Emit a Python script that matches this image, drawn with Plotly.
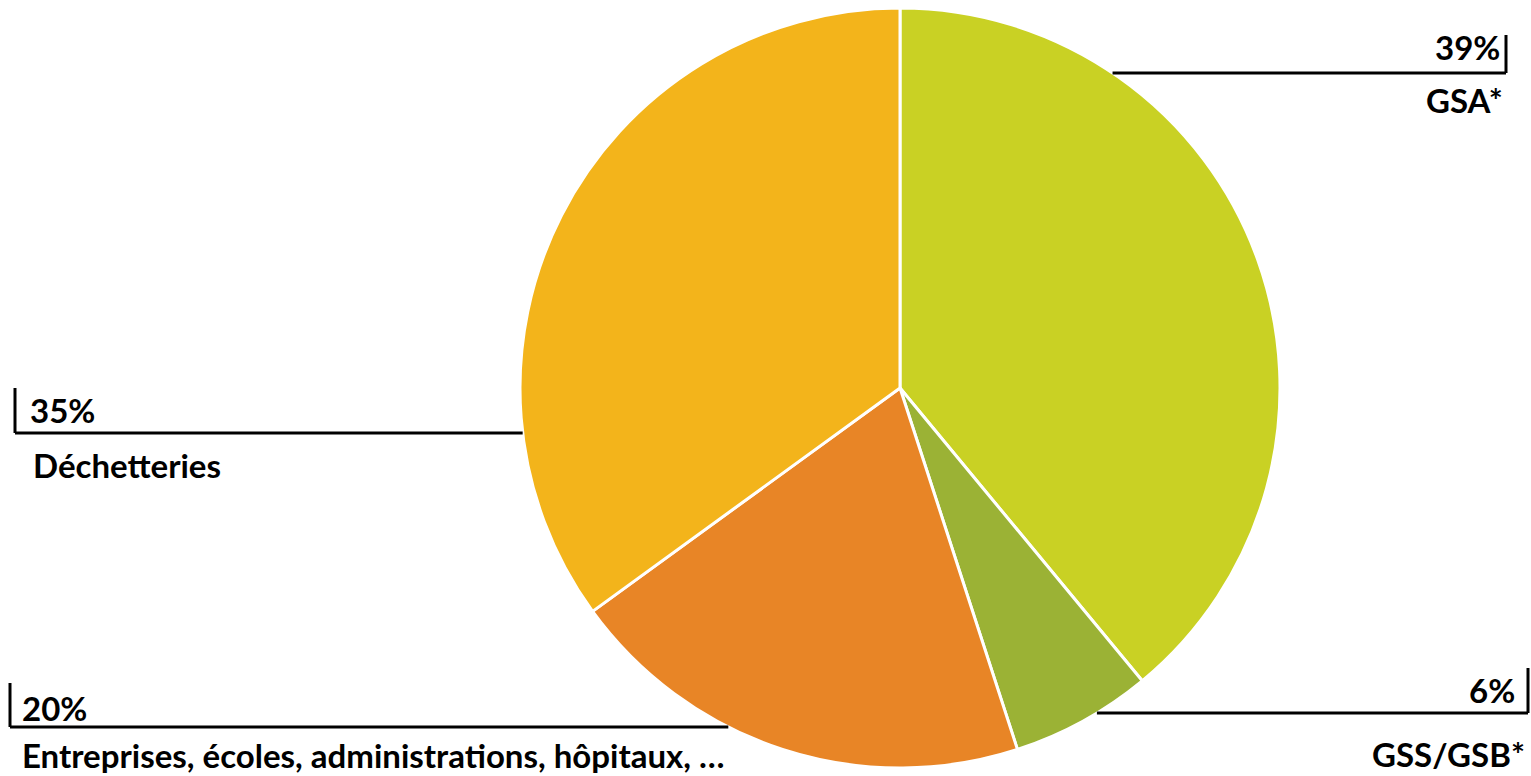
import math
import plotly.graph_objects as go

# ---- data ----
categories = ["GSA*", "GSS/GSB*", "Entreprises, écoles, administrations, hôpitaux, …", "Déchetteries"]
values = [39, 6, 20, 35]
colors = ["#C9D124", "#9BB235", "#E88526", "#F3B41B"]

# ---- layout constants (pixels) ----
W, H = 1531, 776
CX, CY, R = 900, 388, 380
FONT = "Lato"
FS = 33

# label layout: (side, line_y, tick_x, tick_top, pct_xy, name_xy)
label_layout = [
    ("right", 73, 1506, 35, (1501, 47), (1504, 100)),
    ("right", 713, 1528, 668, (1516, 690), (1526, 754)),
    ("left", 727, 10, 683, (21, 708), (21, 755)),
    ("left", 433, 15, 388, (29, 410), (32, 465)),
]


def px(x):
    return x / W


def py(y):
    return 1 - y / H


fig = go.Figure()
fig.add_trace(go.Pie(
    labels=categories,
    values=values,
    sort=False,
    direction="clockwise",
    rotation=0,
    marker=dict(colors=colors, line=dict(color="white", width=3)),
    textinfo="none",
    hoverinfo="label+percent",
    showlegend=False,
    domain=dict(x=[px(CX - R), px(CX + R)], y=[py(CY + R), py(CY - R)]),
))

total = sum(values)
shapes = []
annotations = []
for cat, val, (side, ly, tx, ttop, pxy, nxy) in zip(categories, values, label_layout):
    dy = CY - ly
    dx = math.sqrt(max(R * R - dy * dy, 0))
    edge_x = CX + dx if side == "right" else CX - dx
    line = dict(color="black", width=3)
    shapes.append(dict(type="line", xref="paper", yref="paper",
                       x0=px(edge_x), y0=py(ly), x1=px(tx), y1=py(ly), line=line))
    shapes.append(dict(type="line", xref="paper", yref="paper",
                       x0=px(tx), y0=py(ly), x1=px(tx), y1=py(ttop), line=line))
    anchor = "right" if side == "right" else "left"
    pct = f"{round(100 * val / total)}%"
    annotations.append(dict(text=f"<b>{pct}</b>", xref="paper", yref="paper",
                            x=px(pxy[0]), y=py(pxy[1]), xanchor=anchor, yanchor="middle",
                            showarrow=False, borderpad=0,
                            font=dict(family=FONT, size=FS, color="black")))
    annotations.append(dict(text=f"<b>{cat}</b>", xref="paper", yref="paper",
                            x=px(nxy[0]), y=py(nxy[1]), xanchor=anchor, yanchor="middle",
                            showarrow=False, borderpad=0,
                            font=dict(family=FONT, size=FS, color="black")))

fig.update_layout(
    width=W, height=H,
    margin=dict(l=0, r=0, t=0, b=0),
    paper_bgcolor="white",
    plot_bgcolor="white",
    shapes=shapes,
    annotations=annotations,
)

fig.write_html(
    "out.html",
    config={"displayModeBar": False},
    post_script="document.body.style.margin='0';document.body.style.overflow='hidden';",
)
